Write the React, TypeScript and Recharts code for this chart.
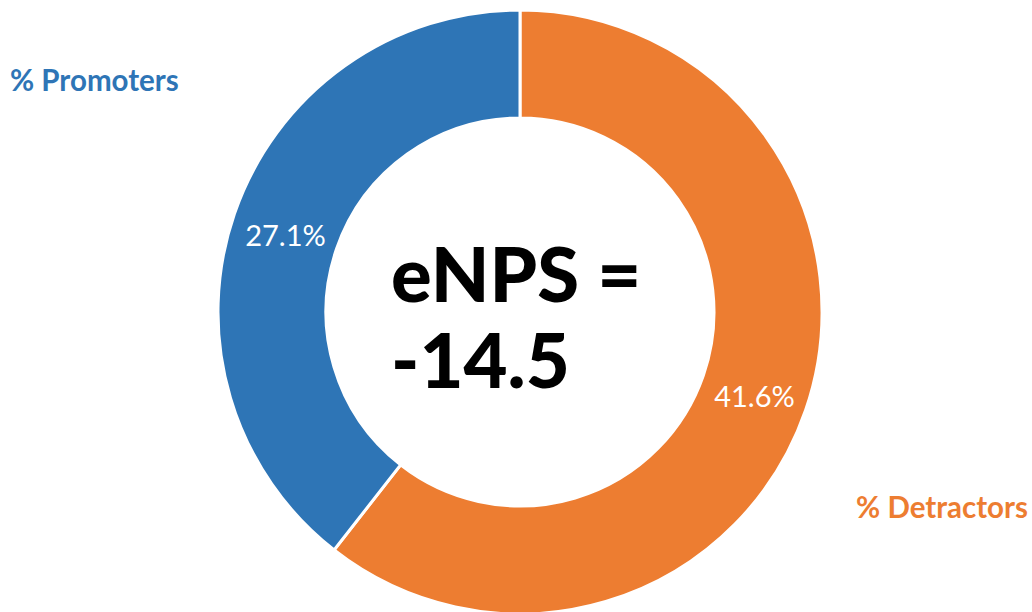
import React from "react";
import { PieChart, Pie, Cell } from "recharts";

const categories = ["% Detractors", "% Promoters"];
const values = [41.6, 27.1];
const colors = ["#ED7D31", "#2E75B6"];
const npsLabel = "eNPS =";
const npsValue = "-14.5";

const data = categories.map((name, i) => ({ name, value: values[i] }));

const RAD = Math.PI / 180;
const renderLabel = (props: any) => {
  const { cx, cy, midAngle, innerRadius, outerRadius, value } = props;
  const r = (innerRadius + outerRadius) / 2;
  const x = cx + r * Math.cos(-midAngle * RAD);
  const y = cy + r * Math.sin(-midAngle * RAD) + 3;
  return (
    <text
      x={x}
      y={y}
      fill="#ffffff"
      textAnchor="middle"
      dominantBaseline="central"
      fontFamily="Lato"
      fontSize={29}
    >
      {value.toFixed(1)}%
    </text>
  );
};

export default function App() {
  return (
    <div style={{ position: "fixed", left: 0, top: 0, width: 1032, height: 612, background: "#fff", fontFamily: "Lato" }}>
      <PieChart width={1032} height={612} margin={{ top: 0, right: 0, bottom: 0, left: 0 }}>
        <Pie
          data={data}
          dataKey="value"
          nameKey="name"
          cx={520}
          cy={312}
          innerRadius={194}
          outerRadius={302}
          startAngle={90}
          endAngle={-270}
          stroke="#ffffff"
          strokeWidth={3}
          label={renderLabel}
          labelLine={false}
          isAnimationActive={false}
        >
          {data.map((d, i) => (
            <Cell key={d.name} fill={colors[i]} />
          ))}
        </Pie>
      </PieChart>
      <div style={{ position: "absolute", left: 10, top: 62, fontSize: 29.5, fontWeight: 700, color: colors[1], whiteSpace: "nowrap" }}>
        {categories[1]}
      </div>
      <div style={{ position: "absolute", right: 4, top: 489, fontSize: 29.5, fontWeight: 700, color: colors[0], whiteSpace: "nowrap" }}>
        {categories[0]}
      </div>
      <div style={{ position: "absolute", left: 391, top: 230, fontSize: 76, fontWeight: 900, color: "#000", lineHeight: "86px", whiteSpace: "nowrap" }}>
        <div>{npsLabel}</div>
        <div>{npsValue}</div>
      </div>
    </div>
  );
}
